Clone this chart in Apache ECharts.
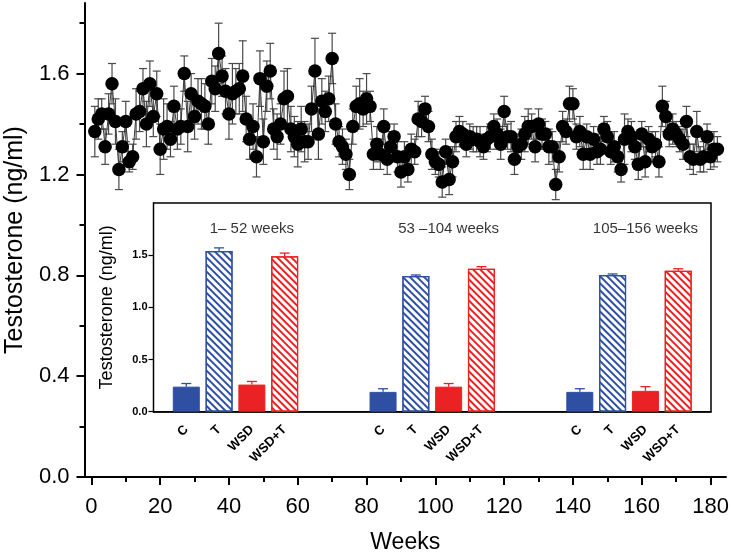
<!DOCTYPE html>
<html>
<head>
<meta charset="utf-8">
<script src="https://cdn.jsdelivr.net/npm/echarts@6/dist/echarts.min.js"></script>
<style>
html,body{margin:0;padding:0;background:#fff;}
#chart{width:731px;height:554px;}
</style>
</head>
<body>
<div id="chart"></div>
<script>
// ---------- DATA ----------
const firstWeek = 1;
const testosterone = [
1.37,1.42,1.44,1.31,1.44,1.56,1.41,1.22,1.31,1.41,
1.25,1.27,1.44,1.45,1.54,1.40,1.56,1.43,1.52,1.30,
1.38,1.39,1.34,1.47,1.38,1.39,1.60,1.39,1.52,1.43,
1.49,1.48,1.47,1.40,1.57,1.54,1.68,1.59,1.53,1.44,
1.52,1.53,1.54,1.59,1.42,1.34,1.39,1.27,1.58,1.33,
1.55,1.61,1.38,1.35,1.40,1.50,1.51,1.38,1.35,1.32,
1.38,1.33,1.33,1.46,1.61,1.36,1.49,1.45,1.50,1.66,
1.40,1.33,1.31,1.28,1.20,1.39,1.47,1.48,1.46,1.50,
1.47,1.28,1.32,1.28,1.39,1.26,1.31,1.35,1.27,1.21,
1.27,1.22,1.30,1.29,1.42,1.41,1.46,1.39,1.28,1.25,
1.24,1.17,1.29,1.18,1.25,1.35,1.37,1.36,1.32,1.35,
1.34,1.34,1.33,1.31,1.34,1.35,1.39,1.36,1.32,1.45,
1.35,1.35,1.26,1.31,1.32,1.36,1.39,1.39,1.31,1.40,
1.36,1.36,1.31,1.31,1.16,1.27,1.39,1.37,1.48,1.48,
1.35,1.37,1.28,1.35,1.28,1.34,1.29,1.30,1.38,1.35,
1.29,1.31,1.27,1.22,1.34,1.37,1.35,1.31,1.24,1.36,
1.25,1.34,1.31,1.32,1.25,1.47,1.43,1.36,1.38,1.36,
1.34,1.32,1.41,1.27,1.26,1.37,1.26,1.27,1.35,1.27,
1.30,1.30
];
const testosteroneErr = [
0.10,0.08,0.06,0.07,0.08,0.08,0.09,0.08,0.06,0.08,
0.04,0.05,0.10,0.08,0.08,0.09,0.09,0.08,0.09,0.10,
0.12,0.09,0.07,0.08,0.08,0.07,0.07,0.10,0.08,0.09,
0.09,0.10,0.09,0.08,0.09,0.09,0.12,0.08,0.09,0.10,
0.12,0.09,0.10,0.14,0.09,0.08,0.09,0.08,0.11,0.09,
0.10,0.11,0.08,0.09,0.08,0.11,0.11,0.09,0.08,0.09,
0.09,0.08,0.07,0.09,0.13,0.10,0.09,0.08,0.09,0.10,
0.08,0.06,0.07,0.06,0.06,0.07,0.08,0.10,0.07,0.10,
0.06,0.06,0.07,0.06,0.07,0.06,0.06,0.05,0.06,0.06,
0.06,0.05,0.06,0.05,0.07,0.06,0.05,0.06,0.06,0.05,
0.05,0.06,0.05,0.06,0.06,0.06,0.06,0.05,0.05,0.05,
0.05,0.05,0.06,0.05,0.05,0.05,0.05,0.06,0.06,0.06,
0.05,0.06,0.06,0.05,0.06,0.07,0.07,0.05,0.06,0.06,
0.06,0.05,0.07,0.06,0.06,0.06,0.06,0.05,0.07,0.06,
0.05,0.06,0.06,0.05,0.06,0.05,0.05,0.06,0.05,0.06,
0.05,0.06,0.06,0.05,0.10,0.05,0.06,0.05,0.06,0.05,
0.06,0.05,0.06,0.05,0.06,0.08,0.06,0.05,0.06,0.05,
0.05,0.06,0.06,0.05,0.06,0.08,0.05,0.06,0.05,0.05,
0.07,0.05
];
const xTicks = [0,20,40,60,80,100,120,140,160,180];
const xMinorTicks = [10,30,50,70,90,110,130,150,170];
const yTicks = [0,0.4,0.8,1.2,1.6];
const yMinorTicks = [0.2,0.6,1.0,1.4,1.8];

const periods = ['1\u2013 52 weeks', '53 \u2013104 weeks', '105\u2013156 weeks'];
const treatments = ['C', 'T', 'WSD', 'WSD+T'];
const insetMeans = [
  [0.24, 1.54, 0.26, 1.49],
  [0.19, 1.30, 0.24, 1.37],
  [0.19, 1.31, 0.20, 1.35]
];
const insetErr = [
  [0.03, 0.03, 0.03, 0.03],
  [0.03, 0.01, 0.03, 0.02],
  [0.03, 0.01, 0.04, 0.02]
];
const insetYTicks = [0, 0.5, 1.0, 1.5];

// ---------- BUILD ----------
const FONT = 'Liberation Sans, Arial, sans-serif';
const BLUE = '#2f4fa2';
const RED = '#ea2224';
const mainPts = testosterone.map((v, i) => [firstWeek + i, v]);
const mainErrPts = testosterone.map((v, i) => [firstWeek + i, v - testosteroneErr[i], v + testosteroneErr[i]]);

// inset category slots: blank, 4 bars, 2 blanks, 4 bars, 2 blanks, 4 bars, blank
const insetCats = [''];
const insetBarData = [null];
const insetErrData = [];
const insetLabelData = [];
periods.forEach((p, g) => {
  treatments.forEach((t, k) => {
    const idx = insetCats.length;
    insetCats.push(t);
    const hatched = (k === 1 || k === 3);
    const col = (k < 2) ? BLUE : RED;
    insetBarData.push({
      value: insetMeans[g][k],
      itemStyle: hatched ? {
        color: '#fff', borderColor: col, borderWidth: 1.2,
        decal: { symbol: 'rect', symbolSize: 1, color: col, backgroundColor: 'rgba(0,0,0,0)',
                 dashArrayX: [1, 0], dashArrayY: [1.4, 2.6], rotation: Math.PI / 4 }
      } : { color: col, borderColor: col, borderWidth: 1 }
    });
    insetErrData.push({ value: [idx, insetMeans[g][k], insetMeans[g][k] + insetErr[g][k]], col: col });
    if (k === 2) insetLabelData.push({ value: [idx, 1.75], name: p });
  });
  if (g < periods.length - 1) { insetCats.push(''); insetCats.push(''); insetBarData.push(null); insetBarData.push(null); }
});
insetCats.push(''); insetBarData.push(null);

function errRender(capW, colorFn, lw, upperOnly) {
  return function (params, api) {
    const x = api.value(0), lo = api.value(1), hi = api.value(2);
    const pLo = api.coord([x, lo]);
    const pHi = api.coord([x, hi]);
    const stroke = colorFn(params.dataIndex);
    const st = { stroke: stroke, lineWidth: lw, fill: null };
    const ch = [
      { type: 'line', shape: { x1: pHi[0], y1: pHi[1], x2: pLo[0], y2: pLo[1] }, style: st },
      { type: 'line', shape: { x1: pHi[0] - capW / 2, y1: pHi[1], x2: pHi[0] + capW / 2, y2: pHi[1] }, style: st }
    ];
    if (!upperOnly) ch.push({ type: 'line', shape: { x1: pLo[0] - capW / 2, y1: pLo[1], x2: pLo[0] + capW / 2, y2: pLo[1] }, style: st });
    return { type: 'group', children: ch };
  };
}

const chart = echarts.init(document.getElementById('chart'), null, { renderer: 'canvas' });
chart.setOption({
  backgroundColor: '#fff',
  animation: false,
  textStyle: { fontFamily: FONT },
  grid: [
    { left: 84.5, right: 5, top: 3, bottom: 77, containLabel: false, outerBoundsMode: 'none' },
    { left: 153.5, right: 20, top: 203, bottom: 142.3, show: true, backgroundColor: '#fff',
      borderColor: '#000', borderWidth: 1.5, z: 3, containLabel: false, outerBoundsMode: 'none' }
  ],
  xAxis: [
    { type: 'value', gridIndex: 0, min: -2, max: 184.5,
      axisLine: { show: true, onZero: false, lineStyle: { color: '#000', width: 2 } },
      axisTick: { show: true, customValues: xTicks, length: 8, lineStyle: { color: '#000', width: 2 } },
      axisLabel: { customValues: xTicks, fontSize: 22, color: '#000', margin: 19, fontFamily: FONT },
      splitLine: { show: false },
      name: 'Weeks', nameLocation: 'middle', nameGap: 54,
      nameTextStyle: { fontSize: 23, color: '#000', fontFamily: FONT } },
    { type: 'value', gridIndex: 0, min: -2, max: 184.5, position: 'bottom', offset: 0,
      axisLine: { show: false, onZero: false },
      axisTick: { show: true, customValues: xMinorTicks, length: 5, lineStyle: { color: '#000', width: 2 } },
      axisLabel: { show: false }, splitLine: { show: false } },
    { type: 'category', gridIndex: 1, data: insetCats, boundaryGap: false,
      axisLine: { show: true, onZero: false, lineStyle: { color: '#000', width: 1.5 } },
      axisTick: { show: false },
      axisLabel: { interval: 0, rotate: 45, fontSize: 13, fontWeight: 'bold', color: '#000', margin: 16, fontFamily: FONT },
      splitLine: { show: false } }
  ],
  yAxis: [
    { type: 'value', gridIndex: 0, min: 0, max: 1.88,
      axisLine: { show: true, onZero: false, lineStyle: { color: '#000', width: 2 } },
      axisTick: { show: true, customValues: yTicks, length: 8, lineStyle: { color: '#000', width: 2 } },
      axisLabel: { customValues: yTicks, fontSize: 22, color: '#000', margin: 15, fontFamily: FONT,
                   formatter: v => v.toFixed(1) },
      splitLine: { show: false },
      name: 'Testosterone (ng/ml)', nameLocation: 'middle', nameGap: 57, nameRotate: 90,
      nameTextStyle: { fontSize: 25, color: '#000', fontFamily: FONT } },
    { type: 'value', gridIndex: 0, min: 0, max: 1.88, position: 'left', offset: 0,
      axisLine: { show: false, onZero: false },
      axisTick: { show: true, customValues: yMinorTicks, length: 5, lineStyle: { color: '#000', width: 2 } },
      axisLabel: { show: false }, splitLine: { show: false } },
    { type: 'value', gridIndex: 1, min: 0, max: 2.0,
      axisLine: { show: true, onZero: false, lineStyle: { color: '#000', width: 1.5 } },
      axisTick: { show: true, customValues: insetYTicks, length: 5, lineStyle: { color: '#000', width: 1.2 } },
      axisLabel: { customValues: insetYTicks, fontSize: 11, fontWeight: 'bold', color: '#000', margin: 6, fontFamily: FONT,
                   formatter: v => v.toFixed(1) },
      splitLine: { show: false },
      name: 'Testosterone (ng/ml)', nameLocation: 'middle', nameGap: 37, nameRotate: 90,
      nameTextStyle: { fontSize: 18, color: '#000', fontFamily: FONT } }
  ],
  series: [
    { type: 'custom', xAxisIndex: 0, yAxisIndex: 0, data: mainErrPts, z: 2,
      renderItem: errRender(8, () => '#4a4a4a', 1.2, false), silent: true },
    { type: 'line', xAxisIndex: 0, yAxisIndex: 0, data: mainPts, z: 3,
      symbol: 'circle', symbolSize: 13.5, showSymbol: true,
      itemStyle: { color: '#000' }, lineStyle: { color: '#3a3a3a', width: 1 } },
    { type: 'custom', xAxisIndex: 2, yAxisIndex: 2, data: insetErrData, z: 4,
      renderItem: errRender(10, i => insetErrData[i].col, 1.3, true), silent: true },
    { type: 'bar', xAxisIndex: 2, yAxisIndex: 2, data: insetBarData, barWidth: 27, z: 5 },
    { type: 'scatter', xAxisIndex: 2, yAxisIndex: 2, data: insetLabelData, symbolSize: 0, z: 6,
      label: { show: true, position: 'inside', formatter: p => p.name, fontSize: 15, color: '#000', fontFamily: FONT } }
  ]
});
</script>
</body>
</html>
